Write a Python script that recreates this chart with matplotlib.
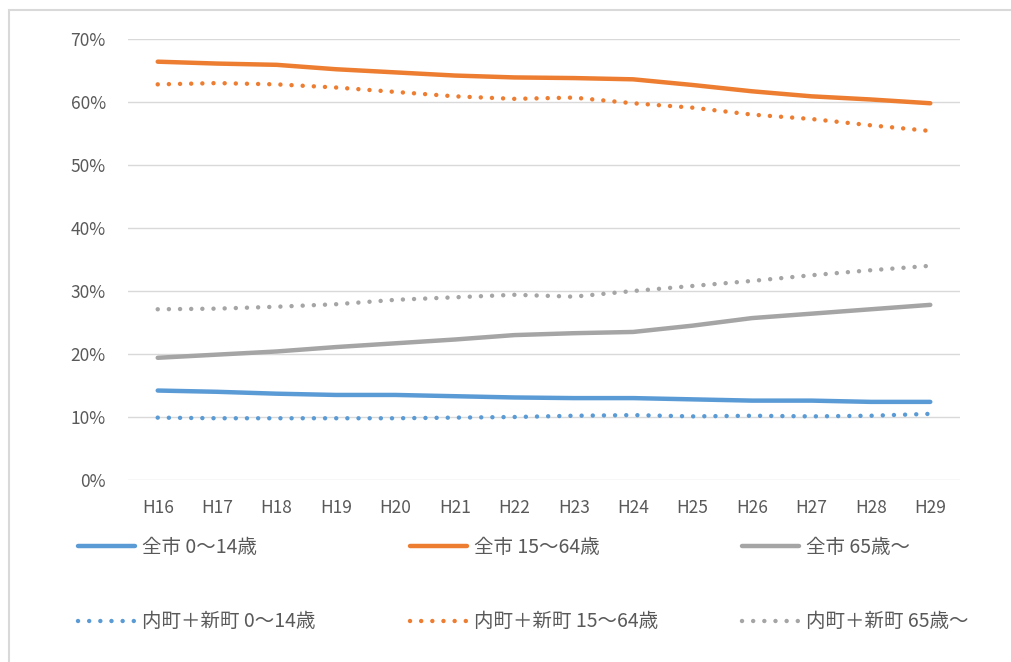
import matplotlib.pyplot as plt
from matplotlib.lines import Line2D
from matplotlib.patches import Rectangle
from matplotlib.ticker import PercentFormatter

plt.rcParams['font.family'] = ['Noto Sans CJK JP', 'DejaVu Sans']

# Data (percent share of population)
years = ['H16', 'H17', 'H18', 'H19', 'H20', 'H21', 'H22',
         'H23', 'H24', 'H25', 'H26', 'H27', 'H28', 'H29']

city_0_14 = [14.2, 14.0, 13.7, 13.5, 13.5, 13.3, 13.1,
             13.0, 13.0, 12.8, 12.6, 12.6, 12.4, 12.4]
city_15_64 = [66.4, 66.1, 65.9, 65.2, 64.7, 64.2, 63.9,
              63.8, 63.6, 62.7, 61.7, 60.9, 60.4, 59.8]
city_65 = [19.4, 19.9, 20.4, 21.1, 21.7, 22.3, 23.0,
           23.3, 23.5, 24.5, 25.7, 26.4, 27.1, 27.8]

town_0_14 = [9.9, 9.8, 9.8, 9.8, 9.8, 9.9, 10.0,
             10.2, 10.3, 10.1, 10.2, 10.1, 10.2, 10.5]
town_15_64 = [62.8, 63.0, 62.8, 62.3, 61.6, 60.9, 60.5,
              60.7, 59.8, 59.1, 58.0, 57.3, 56.3, 55.4]
town_65 = [27.1, 27.2, 27.5, 27.9, 28.6, 29.0, 29.4,
           29.1, 30.0, 30.8, 31.6, 32.5, 33.3, 34.0]

city_labels = ['全市 0〜14歳', '全市 15〜64歳', '全市 65歳〜']
town_labels = ['内町＋新町 0〜14歳', '内町＋新町 15〜64歳', '内町＋新町 65歳〜']

blue, orange, gray = '#5B9BD5', '#ED7D31', '#A5A5A5'
colors = [blue, orange, gray]
dots = (0, (0.01, 2.5))

fig = plt.figure(figsize=(10.12, 6.62), dpi=100)
ax = fig.add_axes([128 / 1012, 1 - 480 / 662, 832 / 1012, 441 / 662])

x = range(len(years))
solid_kw = dict(linewidth=3.2, solid_capstyle='round')
dot_kw = dict(linewidth=3.2, linestyle=dots, dash_capstyle='round')

for c, s in zip(colors, [city_0_14, city_15_64, city_65]):
    ax.plot(x, s, color=c, **solid_kw)
for c, s in zip(colors, [town_0_14, town_15_64, town_65]):
    ax.plot(x, s, color=c, **dot_kw)

ax.set_xlim(-0.5, len(years) - 0.5)
ax.set_ylim(0, 70)
ax.set_yticks(range(0, 71, 10))
ax.yaxis.set_major_formatter(PercentFormatter(decimals=0))
ax.set_xticks(list(x))
ax.set_xticklabels(years)
ax.grid(axis='y', color='#D9D9D9', linewidth=1)
ax.set_axisbelow(True)
for s in ax.spines.values():
    s.set_visible(False)
ax.tick_params(length=0, labelsize=12.5, labelcolor='#595959')
ax.tick_params(axis='y', pad=16)
ax.tick_params(axis='x', pad=14)

# Legend: one small legend per column, two rows each
col_x = [78, 410, 742]
for cx, c, l1, l2 in zip(col_x, colors, city_labels, town_labels):
    hs = [Line2D([], [], color=c, **solid_kw), Line2D([], [], color=c, **dot_kw)]
    leg = fig.legend(hs, [l1, l2], loc='upper left',
                     bbox_to_anchor=(cx / 1012, 1 - 537 / 662),
                     frameon=False, fontsize=14, handlelength=2.95,
                     handletextpad=0.36, labelspacing=2.75, borderpad=0,
                     borderaxespad=0)
    for t in leg.get_texts():
        t.set_color('#595959')

# chart-area border
fig.patches.append(Rectangle((9 / 1012, -0.1), 1.2, 1 - 10 / 662 + 0.1,
                             transform=fig.transFigure, fill=False,
                             edgecolor='#D9D9D9', linewidth=1.5))

fig.savefig('out.png', dpi=100)
